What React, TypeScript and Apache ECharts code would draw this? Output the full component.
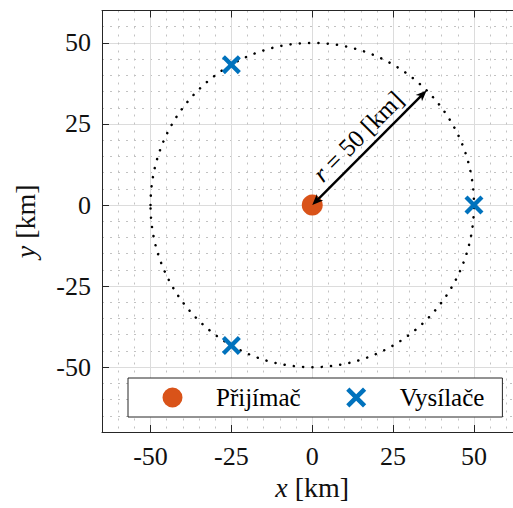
import React, { useEffect, useRef } from 'react';
import * as echarts from 'echarts';

// Axis extents and tick positions (km)
const xRange = [-65, 65];
const yRange = [-70, 60];
const xTicks = [-50, -25, 0, 25, 50];
const yTicks = [-50, -25, 0, 25, 50];
const minorStep = 5;

// Receiver coverage radius and the direction of the radius arrow
const rangeKm = 50;
const arrowAngleDeg = 45;

// Station positions (km)
const receiverName = 'Přijímač';
const transmitterName = 'Vysílače';
const receiverPos = [[0, 0]];
const transmitterPos = [
  [50, 0],
  [-25, 43.3],
  [-25, -43.3],
];

const serif = "'Liberation Serif', 'DejaVu Serif', serif";
const axisColor = '#262626';
const crossSymbol =
  'path://M0,3.2L3.2,0L10,6.8L16.8,0L20,3.2L13.2,10L20,16.8L16.8,20L10,13.2L3.2,20L0,16.8L6.8,10Z';
// Legend icons: same marks, centred in a wide 77x20 box
const legendCircle =
  'path://M0,0M77,20M48.5,10A10,10,0,1,1,28.5,10A10,10,0,1,1,48.5,10Z';
const legendCross =
  'path://M0,0M77,20M28.5,3.2L31.7,0L38.5,6.8L45.3,0L48.5,3.2L41.7,10L48.5,16.8L45.3,20L38.5,13.2L31.7,20L28.5,16.8L35.3,10Z';

function buildOption(): echarts.EChartsOption {
  const center = receiverPos[0];
  const a = (arrowAngleDeg * Math.PI) / 180;
  const arrowData = [[center[0], center[1], center[0] + rangeKm * Math.cos(a), center[1] + rangeKm * Math.sin(a)]];
  const circleData = [[center[0], center[1], rangeKm]];

  const tickStyle = { color: axisColor, width: 1 };
  const labelStyle = { fontFamily: serif, fontSize: 26, color: '#111' };
  const nameRich = {
    i: { fontFamily: serif, fontStyle: 'italic' as const, fontSize: 28, color: '#111' },
  };

  const minorAxis = (min: number, max: number, position: any) => ({
    type: 'value' as const,
    min,
    max,
    interval: minorStep,
    position,
    axisLine: { show: false, onZero: false },
    axisTick: { show: false },
    axisLabel: { show: false },
    splitLine: { show: true, lineStyle: { color: '#c2c2c2', width: 1, type: [2, 6] as any } },
  });

  return {
    animation: false,
    backgroundColor: '#fff',
    grid: {
      left: 102,
      top: 10.5,
      width: 420.5,
      height: 421.5,
      containLabel: false,
      outerBoundsMode: 'none',
    } as any,
    xAxis: [
      minorAxis(xRange[0], xRange[1], 'bottom'),
      {
        type: 'value',
        min: xRange[0],
        max: xRange[1],
        interval: minorStep,
        position: 'bottom',
        axisLine: { show: true, onZero: false, lineStyle: tickStyle },
        axisTick: { show: true, inside: true, length: 7, customValues: xTicks, lineStyle: tickStyle } as any,
        axisLabel: { customValues: xTicks, margin: 11, ...labelStyle } as any,
        splitLine: { show: true, lineStyle: { color: '#dcdcdc', width: 1 } },
        name: '{i|x} [km]',
        nameLocation: 'middle',
        nameGap: 40,
        nameTextStyle: { fontFamily: serif, fontSize: 28, color: '#111', rich: nameRich },
      },
      {
        type: 'value',
        min: xRange[0],
        max: xRange[1],
        interval: minorStep,
        position: 'top',
        axisLine: { show: true, onZero: false, lineStyle: tickStyle },
        axisTick: { show: true, inside: true, length: 7, customValues: xTicks, lineStyle: tickStyle } as any,
        axisLabel: { show: false },
        splitLine: { show: false },
      },
    ],
    yAxis: [
      minorAxis(yRange[0], yRange[1], 'left'),
      {
        type: 'value',
        min: yRange[0],
        max: yRange[1],
        interval: minorStep,
        position: 'left',
        axisLine: { show: true, onZero: false, lineStyle: tickStyle },
        axisTick: { show: true, inside: true, length: 7, customValues: yTicks, lineStyle: tickStyle } as any,
        axisLabel: { customValues: yTicks, margin: 11, ...labelStyle } as any,
        splitLine: { show: true, lineStyle: { color: '#dcdcdc', width: 1 } },
        name: '{i|y} [km]',
        nameLocation: 'middle',
        nameGap: 63,
        nameTextStyle: { fontFamily: serif, fontSize: 28, color: '#111', rich: nameRich },
      },
    ],
    legend: {
      data: [
        { name: receiverName, icon: legendCircle },
        { name: transmitterName, icon: legendCross },
      ],
      left: 128,
      top: 378,
      orient: 'horizontal',
      itemWidth: 77,
      itemHeight: 20,
      itemGap: 17,
      padding: [7, 18, 7, 6],
      backgroundColor: '#fff',
      borderColor: axisColor,
      borderWidth: 1,
      selectedMode: false,
      textStyle: { fontFamily: serif, fontSize: 25, color: '#000' },
    },
    series: [
      {
        type: 'custom',
        name: 'range',
        xAxisIndex: 1,
        yAxisIndex: 1,
        data: circleData,
        silent: true,
        z: 2,
        renderItem: (_params: any, api: any) => {
          const c = api.coord([api.value(0), api.value(1)]);
          const ex = api.coord([api.value(0) + api.value(2), api.value(1)]);
          const ey = api.coord([api.value(0), api.value(1) + api.value(2)]);
          return {
            type: 'ellipse',
            shape: { cx: c[0], cy: c[1], rx: Math.abs(ex[0] - c[0]), ry: Math.abs(c[1] - ey[1]) },
            style: { fill: 'none', stroke: '#000', lineWidth: 2.5, lineDash: [0.1, 9.2], lineCap: 'round' },
          };
        },
      } as any,
      {
        type: 'scatter',
        name: receiverName,
        xAxisIndex: 1,
        yAxisIndex: 1,
        data: receiverPos,
        symbol: 'circle',
        symbolSize: 21,
        itemStyle: { color: '#D95319', opacity: 1 },
        z: 3,
      },
      {
        type: 'scatter',
        name: transmitterName,
        xAxisIndex: 1,
        yAxisIndex: 1,
        data: transmitterPos,
        symbol: crossSymbol,
        symbolSize: 19,
        itemStyle: { color: '#0072BD', opacity: 1 },
        z: 3,
      },
      {
        type: 'custom',
        name: 'radius',
        xAxisIndex: 1,
        yAxisIndex: 1,
        data: arrowData,
        silent: true,
        z: 5,
        renderItem: (_params: any, api: any) => {
          const p0 = api.coord([api.value(0), api.value(1)]);
          const p1 = api.coord([api.value(2), api.value(3)]);
          const dx = p1[0] - p0[0];
          const dy = p1[1] - p0[1];
          const len = Math.hypot(dx, dy);
          const ux = dx / len;
          const uy = dy / len;
          const nx = uy;
          const ny = -ux;
          const L = 11;
          const W = 4.5;
          const notch = 3;
          const head = (t: number[], vx: number, vy: number) => [
            [t[0], t[1]],
            [t[0] - vx * L - vy * W, t[1] - vy * L + vx * W],
            [t[0] - vx * (L - notch), t[1] - vy * (L - notch)],
            [t[0] - vx * L + vy * W, t[1] - vy * L - vx * W],
          ];
          const mid = [(p0[0] + p1[0]) / 2 + nx * 16, (p0[1] + p1[1]) / 2 + ny * 16];
          const angle = Math.atan2(-dy, dx);
          return {
            type: 'group',
            children: [
              {
                type: 'line',
                shape: { x1: p0[0] + ux * 6, y1: p0[1] + uy * 6, x2: p1[0] - ux * 6, y2: p1[1] - uy * 6 },
                style: { stroke: '#000', lineWidth: 2.4 },
              },
              { type: 'polygon', shape: { points: head(p1, ux, uy) }, style: { fill: '#000' } },
              { type: 'polygon', shape: { points: head(p0, -ux, -uy) }, style: { fill: '#000' } },
              {
                type: 'text',
                x: mid[0],
                y: mid[1],
                rotation: angle,
                style: {
                  text: `{i|r} = ${rangeKm} [km]`,
                  fontFamily: serif,
                  fontSize: 25,
                  fill: '#000',
                  align: 'center',
                  verticalAlign: 'middle',
                  rich: { i: { fontFamily: serif, fontStyle: 'italic', fontSize: 25, fill: '#000' } },
                },
              },
            ],
          };
        },
      } as any,
    ],
  };
}

export default function App() {
  const ref = useRef<HTMLDivElement>(null);
  useEffect(() => {
    if (!ref.current) return;
    const chart = echarts.init(ref.current, undefined, { renderer: 'svg' });
    chart.setOption(buildOption());
    return () => chart.dispose();
  }, []);
  return (
    <div style={{ position: 'fixed', left: 0, top: 0, width: 513, height: 508, overflow: 'hidden', background: '#fff' }}>
      <div ref={ref} style={{ width: 530, height: 508 }} />
    </div>
  );
}
